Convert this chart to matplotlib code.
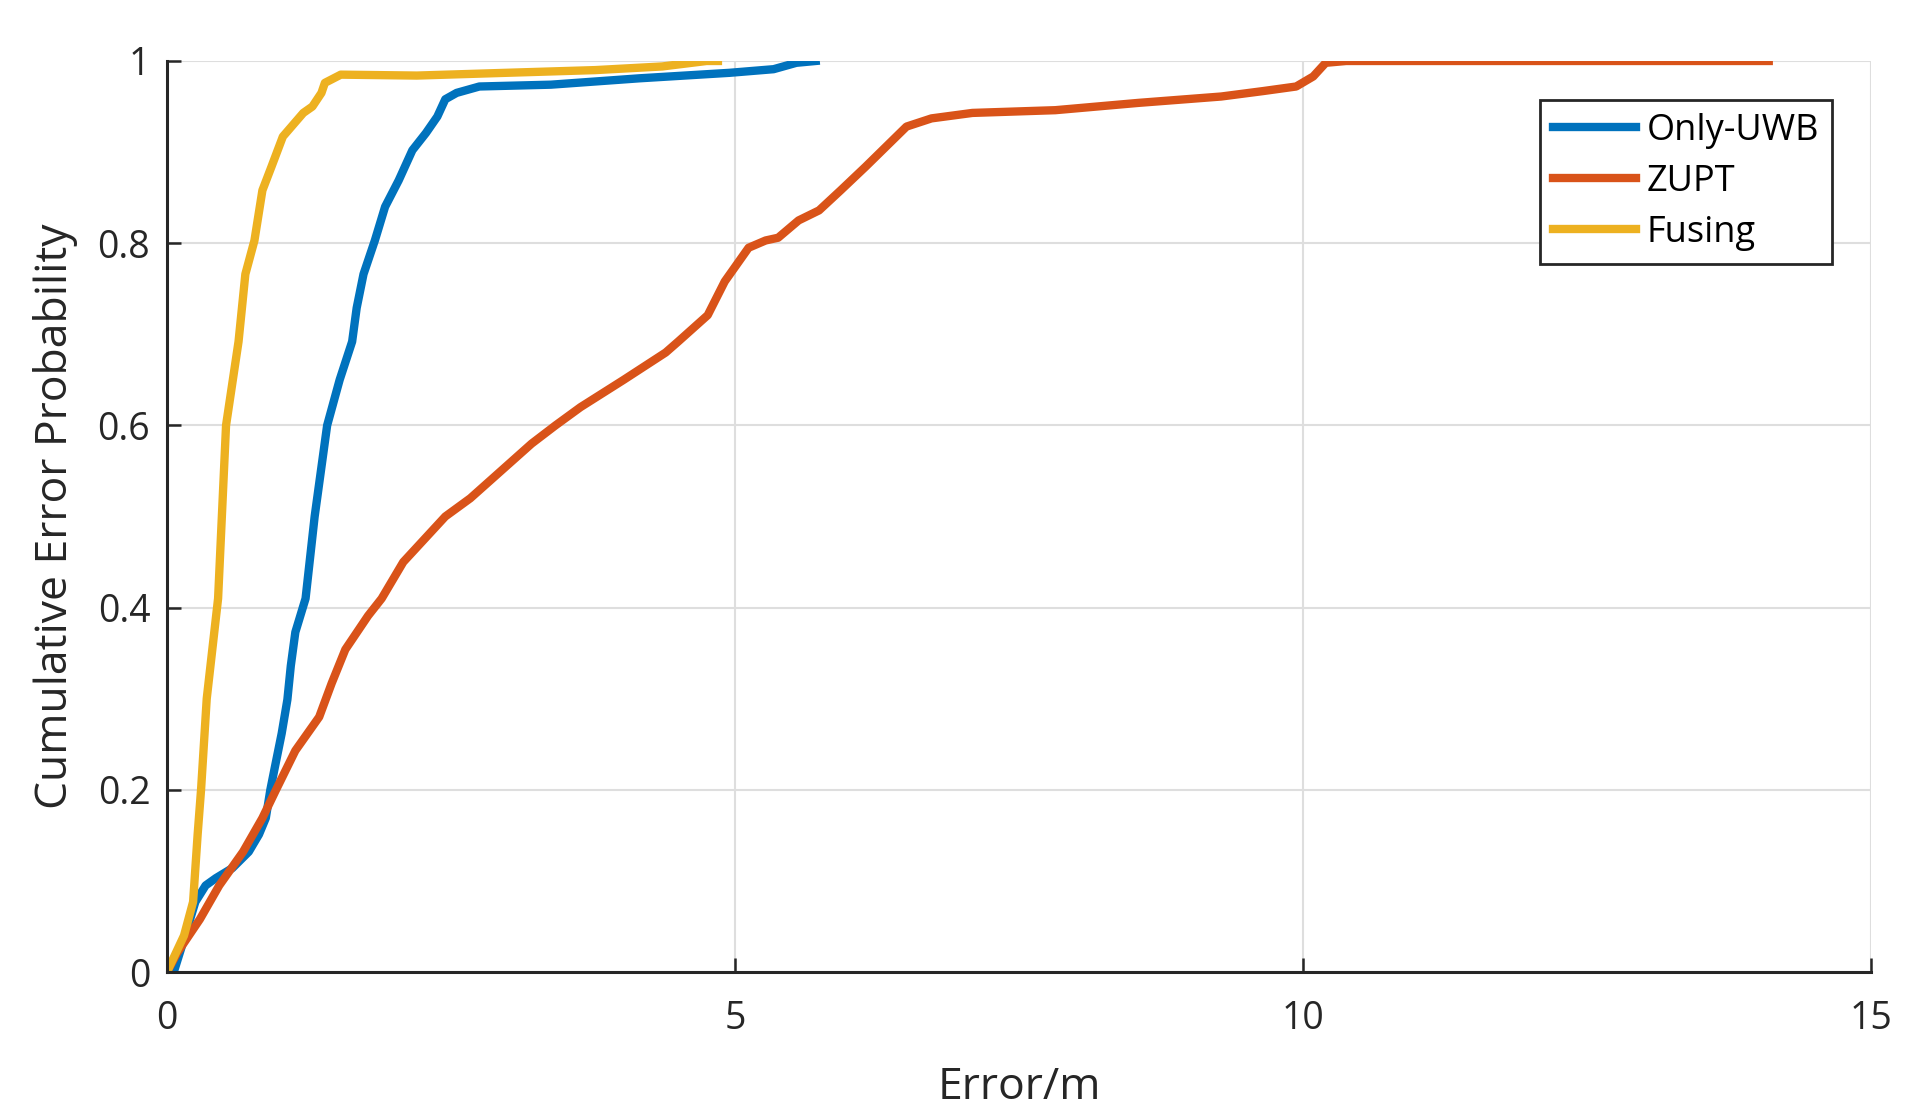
import matplotlib.pyplot as plt

plt.rcParams['font.family'] = ['Open Sans', 'DejaVu Sans']

# Only-UWB CDF (error in m, cumulative probability)
uwb_x = [0.0, 0.06, 0.16, 0.25, 0.34, 0.43, 0.575, 0.72, 0.81, 0.87, 0.91, 0.95, 1.01,
         1.06, 1.09, 1.13, 1.22, 1.30, 1.41, 1.52, 1.63, 1.67, 1.73, 1.83, 1.92, 2.04,
         2.16, 2.28, 2.38, 2.45, 2.55, 2.75, 3.38, 4.16, 4.95, 5.34, 5.54, 5.71]
uwb_y = [0.0, 0.0, 0.04, 0.077, 0.095, 0.103, 0.114, 0.132, 0.151, 0.169, 0.2, 0.225, 0.262,
         0.299, 0.336, 0.373, 0.41, 0.5, 0.6, 0.65, 0.692, 0.729, 0.766, 0.803, 0.84, 0.869,
         0.902, 0.921, 0.939, 0.958, 0.965, 0.972, 0.974, 0.981, 0.987, 0.991, 0.998, 1.0]

# ZUPT CDF
zupt_x = [0.0, 0.09, 0.29, 0.46, 0.67, 0.84, 0.96, 1.13, 1.34, 1.45, 1.57, 1.77, 1.89,
          2.08, 2.45, 2.67, 2.94, 3.21, 3.42, 3.64, 4.02, 4.39, 4.50, 4.76, 4.91, 5.12,
          5.27, 5.38, 5.56, 5.74, 5.93, 6.15, 6.33, 6.51, 6.73, 7.09, 7.82, 8.55, 9.28,
          9.65, 9.94, 10.09, 10.2, 10.38, 14.1]
zupt_y = [0.0, 0.021, 0.058, 0.095, 0.132, 0.169, 0.2, 0.243, 0.28, 0.317, 0.354, 0.391, 0.41,
          0.45, 0.5, 0.52, 0.55, 0.58, 0.6, 0.62, 0.65, 0.68, 0.692, 0.721, 0.758, 0.795,
          0.803, 0.806, 0.825, 0.836, 0.858, 0.884, 0.906, 0.928, 0.937, 0.943, 0.946, 0.954, 0.961,
          0.967, 0.972, 0.983, 0.998, 1.0, 1.0]

# Fusing CDF
fus_x = [0.0, 0.15, 0.23, 0.27, 0.30, 0.35, 0.45, 0.52, 0.63, 0.69, 0.77, 0.84, 0.92,
         1.02, 1.20, 1.28, 1.36, 1.39, 1.53, 2.2, 2.98, 3.77, 4.36, 4.75, 4.85]
fus_y = [0.0, 0.04, 0.077, 0.151, 0.2, 0.3, 0.41, 0.6, 0.692, 0.766, 0.803, 0.858, 0.884,
         0.917, 0.943, 0.95, 0.965, 0.976, 0.985, 0.984, 0.987, 0.990, 0.994, 1.0, 1.0]

fig = plt.figure(figsize=(19.17, 11.17), dpi=100)
ax = fig.add_axes([0.0871, 0.1298, 0.8889, 0.8156])

lw = 6
ax.plot(uwb_x, uwb_y, color='#0072BD', lw=lw, label='Only-UWB')
ax.plot(zupt_x, zupt_y, color='#D95319', lw=lw, label='ZUPT')
ax.plot(fus_x, fus_y, color='#EDB120', lw=lw, label='Fusing')

ax.set_xlim(0, 15)
ax.set_ylim(0, 1)
ax.set_xticks([0, 5, 10, 15])
ax.set_yticks([0, 0.2, 0.4, 0.6, 0.8, 1])
ax.set_yticklabels(['0', '0.2', '0.4', '0.6', '0.8', '1'])
ax.grid(True, color='#dedede', lw=1.5)
ax.set_axisbelow(True)

for s in ['top', 'right']:
    ax.spines[s].set_visible(False)
for s in ['bottom', 'left']:
    ax.spines[s].set_color('#262626')
    ax.spines[s].set_linewidth(2.2)
ax.tick_params(direction='in', length=10, width=1.8, colors='#262626', labelsize=27)
ax.tick_params(axis='x', pad=20)
ax.tick_params(axis='y', pad=12)

ax.set_xlabel('Error/m', fontsize=32, color='#262626', va='center')
ax.set_ylabel('Cumulative Error Probability', fontsize=32, color='#262626',
              va='center', ha='center')
ax.xaxis.set_label_coords(0.5, -0.1275)
ax.yaxis.set_label_coords(-0.0657, 0.5)

leg = ax.legend(loc='upper left', bbox_to_anchor=(0.806, 0.957), fontsize=26,
                fancybox=False, edgecolor='#262626', framealpha=1,
                handlelength=2.3, handletextpad=0.3, borderpad=0.35,
                labelspacing=0.42, borderaxespad=0)
leg.get_frame().set_linewidth(2)

fig.savefig('out.png', dpi=100)
